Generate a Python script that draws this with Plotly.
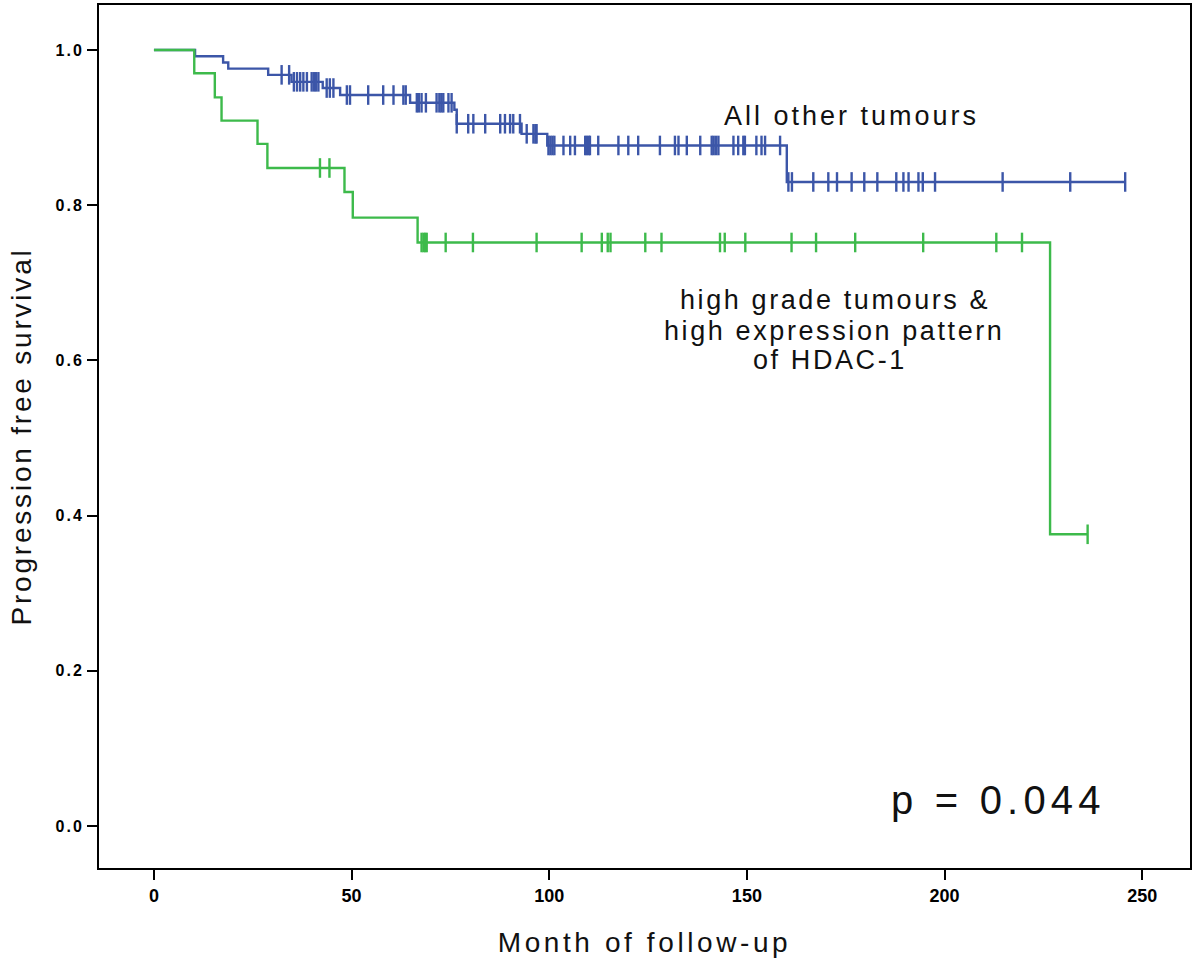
import numpy as np
import plotly.graph_objects as go

# ---- data ----
blue_event_t = [0, 10.4, 17.5, 18.8, 28.9, 34.8, 42.7, 47.1, 64.8, 76.0, 76.6, 93.0, 99.5, 160.1]
blue_surv = [1.0, 0.992, 0.984, 0.976, 0.968, 0.959, 0.951, 0.942, 0.932, 0.923, 0.905, 0.892, 0.877, 0.830]
blue_end = 245.7
blue_censor_t = [32.3, 34.2,
                 35.4, 36.2, 37.0, 37.8, 38.7, 39.9, 40.5, 41.0, 41.6,
                 43.7, 44.5, 45.4,
                 48.8, 49.6, 54.2, 58.0, 60.6, 63.1, 63.7,
                 66.5, 67.0, 67.7, 68.8, 71.5, 72.2, 72.7, 73.2, 74.5, 75.3,
                 76.6, 79.5, 80.8, 83.8, 87.6, 88.8, 90.1, 90.9, 92.6,
                 94.3, 96.0, 96.5, 96.8,
                 99.8, 100.3, 100.8, 101.3, 103.6, 105.3, 106.5, 109.1, 109.5, 110.0, 110.3,
                 112.4, 117.5, 120.0, 122.5, 128.0, 131.8, 132.7, 134.8, 138.2,
                 141.1, 141.6, 142.2, 142.8, 146.6, 147.8, 149.1, 149.5, 152.4, 153.7, 154.6, 158.4,
                 160.5, 161.4, 166.8, 170.6, 172.8, 176.5, 179.7, 183.0, 187.8, 189.6, 190.9,
                 193.4, 194.5, 197.6, 214.7, 231.8, 245.7]

green_event_t = [0, 10.2, 15.4, 17.1, 26.2, 28.7, 48.2, 50.3, 66.7, 226.7]
green_surv = [1.0, 0.970, 0.939, 0.909, 0.879, 0.848, 0.817, 0.784, 0.752, 0.376]
green_end = 236.2
green_censor_t = [42.0, 44.4,
                  67.7, 68.2, 68.6, 69.0, 73.8, 80.7, 96.8, 108.2, 113.3, 114.8, 115.5,
                  124.3, 128.4, 143.2, 144.4, 149.6, 161.3, 167.5, 177.4, 194.6, 213.1, 219.6,
                  236.2]

x_ticks = [0, 50, 100, 150, 200, 250]
y_ticks = [0.0, 0.2, 0.4, 0.6, 0.8, 1.0]
y_tick_labels = ["0.0", "0.2", "0.4", "0.6", "0.8", "1.0"]

label_all = "All other tumours"
label_high = ["high grade tumours &", "high expression pattern", "of HDAC-1"]
p_text = "p = 0.044"

BLUE = "#3c56a8"
GREEN = "#3dba4b"


def step_value(ev_t, surv, t):
    idx = np.searchsorted(np.asarray(ev_t), np.asarray(t), side="right") - 1
    return np.asarray(surv)[idx]


def ls(s, px):
    return f"<span style='letter-spacing:{px}px'>{s}</span>"


fig = go.Figure()

for ev, sv, end, cens, col in [
    (blue_event_t, blue_surv, blue_end, blue_censor_t, BLUE),
    (green_event_t, green_surv, green_end, green_censor_t, GREEN),
]:
    fig.add_trace(go.Scatter(
        x=list(ev) + [end], y=list(sv) + [sv[-1]],
        mode="lines", line=dict(color=col, width=2.4, shape="hv"),
        hoverinfo="skip", showlegend=False))
    fig.add_trace(go.Scatter(
        x=cens, y=step_value(ev, sv, cens),
        mode="markers",
        marker=dict(symbol="line-ns", size=14, line=dict(color=col, width=2.4)),
        hoverinfo="skip", showlegend=False))

# plot-area pixel box of the reference
L, R, T, B = 99, 1190, 3, 868


def px2paper(px, py):
    return (px - L) / (R - L), (B - py) / (B - T)


TXT_FONT = "Liberation Sans, Arial"
text_items = [
    (ls(label_all, 3), (851, 114), 27),
    (ls(label_high[0], 2.6), (835, 299), 27),
    (ls(label_high[1], 2.6), (834, 330), 27),
    (ls(label_high[2], 2.6), (830, 359), 27),
    (ls(p_text, 5.2), (998, 800), 40),
]
for text, (cx, cy), size in text_items:
    ax, ay = px2paper(cx, cy)
    fig.add_annotation(text=text, x=ax, y=ay, xref="paper", yref="paper",
                       xanchor="center", yanchor="middle", align="center",
                       showarrow=False,
                       font=dict(family=TXT_FONT, size=size, color="#111"))

fig.update_layout(
    width=1200, height=966,
    margin=dict(l=L, r=1200 - R, t=T, b=966 - B),
    paper_bgcolor="white", plot_bgcolor="white",
    xaxis=dict(range=[-13.9, 262.1], tickvals=x_ticks,
               ticktext=[f"<b>{v}</b>" for v in x_ticks],
               ticks="outside", ticklen=10, tickwidth=2, tickcolor="black",
               showline=True, linecolor="black", linewidth=2, mirror=True,
               showgrid=False, zeroline=False,
               tickfont=dict(family="Liberation Sans Narrow, Liberation Sans, Arial", size=18, color="black"),
               title=dict(text=ls("Month of follow-up", 3.6), standoff=28,
                          font=dict(family=TXT_FONT, size=28, color="#111"))),
    yaxis=dict(range=[-0.054, 1.058], tickvals=y_ticks,
               ticktext=[f"<b>{ls(t, 2)}</b>" for t in y_tick_labels],
               ticks="outside", ticklen=10, tickwidth=2, tickcolor="black",
               showline=True, linecolor="black", linewidth=2, mirror=True,
               showgrid=False, zeroline=False,
               tickfont=dict(family="Liberation Sans, Arial", size=16, color="black"),
               title=dict(text=ls("Progression free survival", 2.8), standoff=16,
                          font=dict(family=TXT_FONT, size=28, color="#111"))),
)

fig.write_html("out.html", config={"displayModeBar": False},
               post_script="document.body.style.margin='0px';")
